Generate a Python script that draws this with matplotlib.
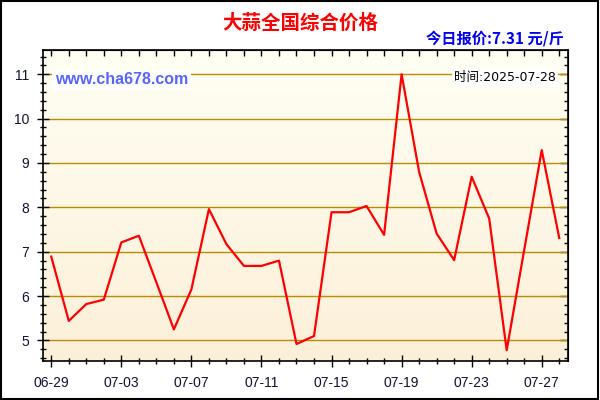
import numpy as np
import matplotlib
matplotlib.use("Agg")
import matplotlib.pyplot as plt
from matplotlib.patches import Rectangle

plt.rcParams['font.family'] = ['Liberation Sans', 'Noto Sans CJK SC', 'DejaVu Sans']

# daily prices 06-29 .. 07-28
prices = [6.89, 5.44, 5.82, 5.92, 7.21, 7.36, 6.31, 5.25, 6.15, 7.96,
          7.17, 6.68, 6.68, 6.80, 4.92, 5.10, 7.89, 7.89, 8.03, 7.38,
          11.00, 8.80, 7.41, 6.81, 8.69, 7.75, 4.78, 7.04, 9.29, 7.31]
tick_days = [0, 4, 8, 12, 16, 20, 24, 28]
tick_labels = ["06-29", "07-03", "07-07", "07-11", "07-15", "07-19", "07-23", "07-27"]
y_ticks = [5, 6, 7, 8, 9, 10, 11]

title = "大蒜全国综合价格"
today_text = "今日报价:7.31 元/斤"
site_text = "www.cha678.com"
time_text = "时间:2025-07-28"

fig = plt.figure(figsize=(6, 4), dpi=100, facecolor="white")
ax = fig.add_axes([42.5 / 600, 1 - 361.3 / 400, (568 - 42.5) / 600, (361.3 - 50.3) / 400])

x = np.arange(len(prices))
ax.set_xlim(-0.5, 29.5)
ax.set_ylim(4.53, 11.54)

# background gradient
top = np.array([1.0, 1.0, 0.955])
bot = np.array([0.99, 0.94, 0.85])
t = np.linspace(0, 1, 256)[:, None]
grad = top * (1 - t) + bot * t
ax.imshow(grad[:, None, :], extent=[-0.5, 29.5, 4.53, 11.54], aspect="auto",
          origin="upper", zorder=0)

for v in y_ticks:
    ax.axhline(v, color="#BF8A00", lw=1.0, zorder=1)

ax.plot(x, prices, color="#FF0000", lw=1.6, zorder=3)

ax.set_xticks(tick_days)
ax.set_xticklabels(tick_labels)
ax.set_xticks(np.arange(0, 30), minor=True)
ax.set_yticks(y_ticks)
ax.set_yticks(np.arange(4.6, 11.5, 0.2), minor=True)

ax.tick_params(which="major", direction="inout", length=9, width=1, colors="black",
               labelcolor="#111133", labelsize=10)
ax.tick_params(which="minor", direction="inout", length=5, width=1, colors="black")
ax.tick_params(axis="x", which="major", pad=6)
ax.tick_params(axis="y", which="major", pad=5)
for s in ax.spines.values():
    s.set_linewidth(1.2)

# ticks on top and right point inward
sx = ax.secondary_xaxis("top")
sx.set_xticks(tick_days)
sx.set_xticks(np.arange(0, 30), minor=True)
sx.tick_params(which="both", direction="in", length=4, width=1, labeltop=False)
sy = ax.secondary_yaxis("right")
sy.set_yticks(y_ticks)
sy.set_yticks(np.arange(4.6, 11.5, 0.2), minor=True)
sy.tick_params(which="major", direction="in", length=6, width=1, labelright=False)
sy.tick_params(which="minor", direction="in", length=3, width=1)

fig.text(55 / 600, 1 - 80 / 400, site_text, color="#5566FF", fontsize=11.5,
         fontweight="bold", va="center", ha="left", zorder=5,
         bbox=dict(facecolor="white", edgecolor="none", pad=2))
fig.text(556 / 600, 1 - 78 / 400, time_text, color="black", fontsize=9,
         va="center", ha="right", zorder=5, family=['DejaVu Sans', 'Noto Sans CJK SC'],
         bbox=dict(facecolor="white", edgecolor="none", pad=1.5))

fig.text(0.5, 1 - 23 / 400, title, color="#FF0000", fontsize=14, fontweight="bold",
         ha="center", va="center", family=['Noto Sans CJK SC', 'DejaVu Sans'])
fig.text(564 / 600, 1 - 38 / 400, today_text, color="#0000EE", fontsize=11,
         fontweight="bold", ha="right", va="center",
         family=['Noto Sans CJK SC', 'DejaVu Sans'])

fig.patches.append(Rectangle((0.001, 0.002), 0.996, 0.996, transform=fig.transFigure,
                             fill=False, edgecolor="black", lw=1.5))

fig.savefig("out.png", dpi=100)
